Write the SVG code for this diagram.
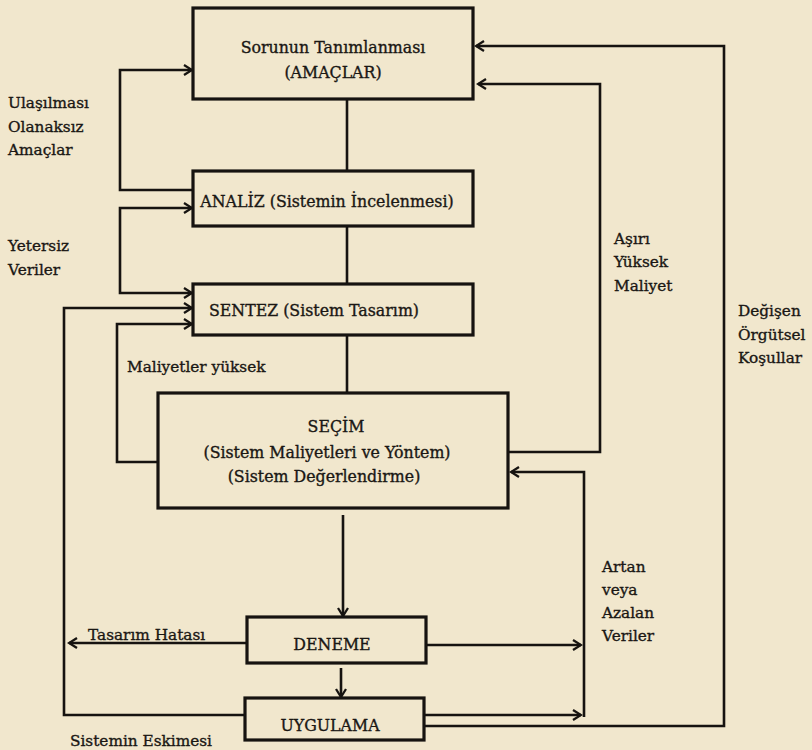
<svg xmlns="http://www.w3.org/2000/svg" width="812" height="750" viewBox="0 0 812 750">
<style>
.box{fill:none;stroke:#161310;stroke-width:3.2}
.t{font-family:"DejaVu Serif","Liberation Serif",serif;font-size:15.8px;fill:#1a1714;stroke:#1a1714;stroke-width:0.35;text-anchor:middle}
.l{font-family:"DejaVu Serif","Liberation Serif",serif;font-size:15.3px;fill:#1a1714;stroke:#1a1714;stroke-width:0.35}
.c{fill:none;stroke:#161310;stroke-width:2.6}
</style>
<defs>
<marker id="arr" viewBox="0 0 12 12" refX="10" refY="6" markerWidth="12" markerHeight="12" markerUnits="userSpaceOnUse" orient="auto-start-reverse">
<path d="M2,1 L10,6 L2,11" fill="none" stroke="#161310" stroke-width="2.3"/>
</marker>
</defs>
<rect x="0" y="0" width="812" height="750" fill="#f1e7cd"/>

<g id="connectors">
<path class="c" d="M347,100 V170"/>
<path class="c" d="M347,226 V283"/>
<path class="c" d="M347,335 V393"/>
<path class="c" d="M343,515 V616" marker-end="url(#arr)"/>
<path class="c" d="M341,668 V697" marker-end="url(#arr)"/>
<path class="c" d="M193,190 H120 V70 H192" marker-end="url(#arr)"/>
<path class="c" d="M192,293 H120 V208 H192" marker-start="url(#arr)" marker-end="url(#arr)"/>
<path class="c" d="M245,715 H64 V308 H192" marker-end="url(#arr)"/>
<path class="c" d="M158,462 H117 V324 H192" marker-end="url(#arr)"/>
<path class="c" d="M247,643 H69" marker-end="url(#arr)"/>
<path class="c" d="M426,645 H581" marker-end="url(#arr)"/>
<path class="c" d="M424,715 H581" marker-end="url(#arr)"/>
<path class="c" d="M584,717 V472 H511" marker-end="url(#arr)"/>
<path class="c" d="M508,452 H600 V84 H478" marker-end="url(#arr)"/>
<path class="c" d="M424,726 H724 V46 H476" marker-end="url(#arr)"/>
</g>

<g id="n-sorun">
<rect class="box" x="193" y="8" width="280" height="91"/>
<text class="t" x="333" y="53">Sorunun Tanımlanması</text>
<text class="t" x="333" y="78">(AMAÇLAR)</text>
</g>
<g id="n-analiz">
<rect class="box" x="193" y="171" width="280" height="55"/>
<text class="t" x="327" y="207">ANALİZ (Sistemin İncelenmesi)</text>
</g>
<g id="n-sentez">
<rect class="box" x="193" y="284" width="280" height="51"/>
<text class="t" x="314" y="316">SENTEZ (Sistem Tasarım)</text>
</g>
<g id="n-secim">
<rect class="box" x="158" y="393" width="350" height="115"/>
<text class="t" x="336" y="432">SEÇİM</text>
<text class="t" x="327" y="458">(Sistem Maliyetleri ve Yöntem)</text>
<text class="t" x="324" y="482">(Sistem Değerlendirme)</text>
</g>
<g id="n-deneme">
<rect class="box" x="247" y="617" width="179" height="46"/>
<text class="t" x="332" y="650">DENEME</text>
</g>
<g id="n-uygulama">
<rect class="box" x="245" y="698" width="179" height="42"/>
<text class="t" x="330" y="731">UYGULAMA</text>
</g>

<g id="labels">
<text class="l" x="8" y="108">Ulaşılması</text>
<text class="l" x="8" y="132">Olanaksız</text>
<text class="l" x="8" y="155">Amaçlar</text>
<text class="l" x="8" y="251">Yetersiz</text>
<text class="l" x="8" y="275">Veriler</text>
<text class="l" x="127" y="372">Maliyetler yüksek</text>
<text class="l" x="88" y="640">Tasarım Hatası</text>
<text class="l" x="70" y="746">Sistemin Eskimesi</text>
<text class="l" x="614" y="244">Aşırı</text>
<text class="l" x="614" y="267">Yüksek</text>
<text class="l" x="614" y="291">Maliyet</text>
<text class="l" x="738" y="316">Değişen</text>
<text class="l" x="738" y="340">Örgütsel</text>
<text class="l" x="738" y="363">Koşullar</text>
<text class="l" x="602" y="572">Artan</text>
<text class="l" x="602" y="595">veya</text>
<text class="l" x="602" y="618">Azalan</text>
<text class="l" x="602" y="641">Veriler</text>
</g>
</svg>
